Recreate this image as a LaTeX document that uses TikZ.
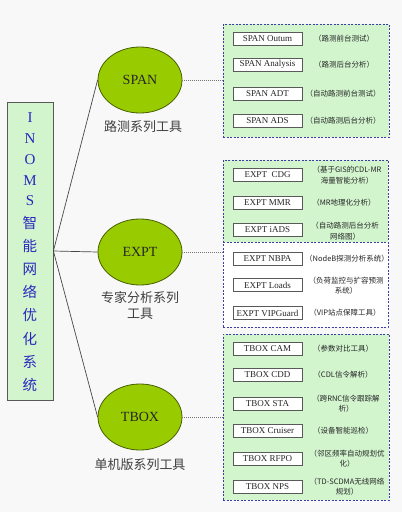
\documentclass[tikz,border=0pt]{standalone}
\usepackage{fontspec}
\setmainfont{Liberation Serif}
\newfontfamily\cjk{Noto Sans CJK SC}
\usetikzlibrary{shapes.geometric}
\definecolor{bg}{RGB}{248,248,248}
\definecolor{mint}{RGB}{210,245,206}
\definecolor{yg}{RGB}{153,204,0}
\definecolor{olivedk}{RGB}{70,95,0}
\definecolor{grpblue}{RGB}{60,60,170}
\definecolor{txtblue}{RGB}{40,40,190}
\definecolor{linegray}{RGB}{70,70,70}
\tikzset{
  ell/.style={ellipse,draw=olivedk,line width=0.8pt,fill=yg,minimum width=84pt,minimum height=66pt,inner sep=0pt,font=\fontsize{14}{16}\selectfont,text=black!85},
  item/.style={rectangle,draw=black!65,line width=0.9pt,fill=white,minimum width=69pt,minimum height=13pt,inner sep=0pt,font=\fontsize{9}{10}\selectfont,text=black!85},
  note/.style={font=\cjk\fontsize{7.5}{10.5}\selectfont,align=center,text=black!85,inner sep=0pt},
  grp/.style={rectangle,draw=grpblue,dash pattern=on 2pt off 1.5pt,line width=1pt,inner sep=0pt},
  lbl/.style={font=\cjk\fontsize{13}{16}\selectfont,text=black!75,align=center},
  conn/.style={draw=linegray,line width=0.7pt},
  dots/.style={draw=black!55,line width=0.8pt,dash pattern=on 1pt off 1pt},
  vch/.style={text=txtblue,inner sep=0pt}
}
\begin{document}
\begin{tikzpicture}[x=1pt,y=-1pt]
\fill[bg] (0,0) rectangle (402,512);
\useasboundingbox (0,0) rectangle (402,512);

% left box
\node[rectangle,draw=black!65,line width=0.8pt,fill=mint,minimum width=46pt,minimum height=298pt,inner sep=0pt] (main) at (30,251) {};
\foreach \c [count=\i from 0] in {I,N,O,M,S}
  \node[vch,font=\fontsize{15}{15}\selectfont] (L\i) at (30,118+20.75*\i) {\c};
\foreach \c [count=\i from 0] in {智,能,网,络,优,化,系,统}
  \node[vch,font=\cjk\fontsize{14.5}{14.5}\selectfont] (C\i) at (30,223+23.1*\i) {\c};

% ellipses
\node[ell] (span) at (140,80) {SPAN};
\node[ell] (expt) at (140,252) {EXPT};
\node[ell] (tbox) at (140,417) {TBOX};

\node[lbl] (spanl) at (143,127) {路测系列工具};
\node[lbl] (exptl) at (140,306) {专家分析系列\\工具};
\node[lbl] (tboxl) at (140,465) {单机版系列工具};

\draw[conn] (main.east) -- (span.west);
\draw[conn] (main.east) -- (expt.west);
\draw[conn] (main.east) -- (tbox.west);

% groups
\node[grp,fill=mint,minimum width=166pt,minimum height=113pt] (gspan) at (306,80.5) {};
\fill[white] (223,242) rectangle (388,327);
\fill[mint] (223,160) rectangle (388,242);
\node[grp,minimum width=165pt,minimum height=167pt] (gexpt) at (305.5,243.5) {};
\draw[grp] (223,242) coordinate (dl) -- (388,242) coordinate (dr);
\node[grp,fill=mint,minimum width=166pt,minimum height=166pt] (gtbox) at (306,417) {};

\draw[dots] (span.east) -- (span.east -| gspan.west);
\draw[dots] (expt.east) -- (expt.east -| gexpt.west);
\draw[dots] (tbox.east) -- (tbox.east -| gtbox.west);

% SPAN items
\node[item] (s1) at (267.5,39) {SPAN Outum};
\node[item] (s2) at (267.5,64.5) {SPAN Analysis};
\node[item] (s3) at (267.5,93.5) {SPAN ADT};
\node[item] (s4) at (267.5,120.5) {SPAN ADS};
\node[note] (n1) at (344,39) {（路测前台测试）};
\node[note] (n2) at (344,64.5) {（路测后台分析）};
\node[note] (n3) at (343,93.5) {（自动路测前台测试）};
\node[note] (n4) at (343,120.5) {（自动路测后台分析）};

% EXPT items
\node[item] (e1) at (267.5,175) {EXPT\ \ CDG};
\node[item] (e2) at (267.5,202.5) {EXPT MMR};
\node[item] (e3) at (267.5,230) {EXPT iADS};
\node[item] (e4) at (267.5,259) {EXPT NBPA};
\node[item] (e5) at (267.5,285) {EXPT Loads};
\node[item] (e6) at (267.5,313) {EXPT VIPGuard};
\node[note] (m1) at (347,175) {（基于GIS的CDL-MR\\海量智能分析）};
\node[note] (m2) at (344,202.5) {（MR地理化分析）};
\node[note] (m3) at (345,231) {（自动路测后台分析\\网络图）};
\node[note] (m4) at (347,259) {（NodeB探测分析系统）};
\node[note] (m5) at (346,285.5) {（负荷监控与扩容预测\\系统）};
\node[note] (m6) at (345,313) {（VIP站点保障工具）};

% TBOX items
\node[item] (t1) at (267.5,348.5) {TBOX CAM};
\node[item] (t2) at (267.5,375) {TBOX CDD};
\node[item] (t3) at (267.5,403.5) {TBOX STA};
\node[item] (t4) at (267.5,430.5) {TBOX Cruiser};
\node[item] (t5) at (267.5,458.5) {TBOX RFPO};
\node[item] (t6) at (267.5,486.5) {TBOX NPS};
\node[note] (k1) at (343,348.5) {（参数对比工具）};
\node[note] (k2) at (343,375) {（CDL信令解析）};
\node[note] (k3) at (346,403.5) {（跨RNC信令跟踪解\\析）};
\node[note] (k4) at (343,430.5) {（设备智能巡检）};
\node[note] (k5) at (347,458.5) {（邻区频率自动规划优\\化）};
\node[note] (k6) at (347,486.5) {（TD-SCDMA无线网络\\规划）};
\end{tikzpicture}
\end{document}
